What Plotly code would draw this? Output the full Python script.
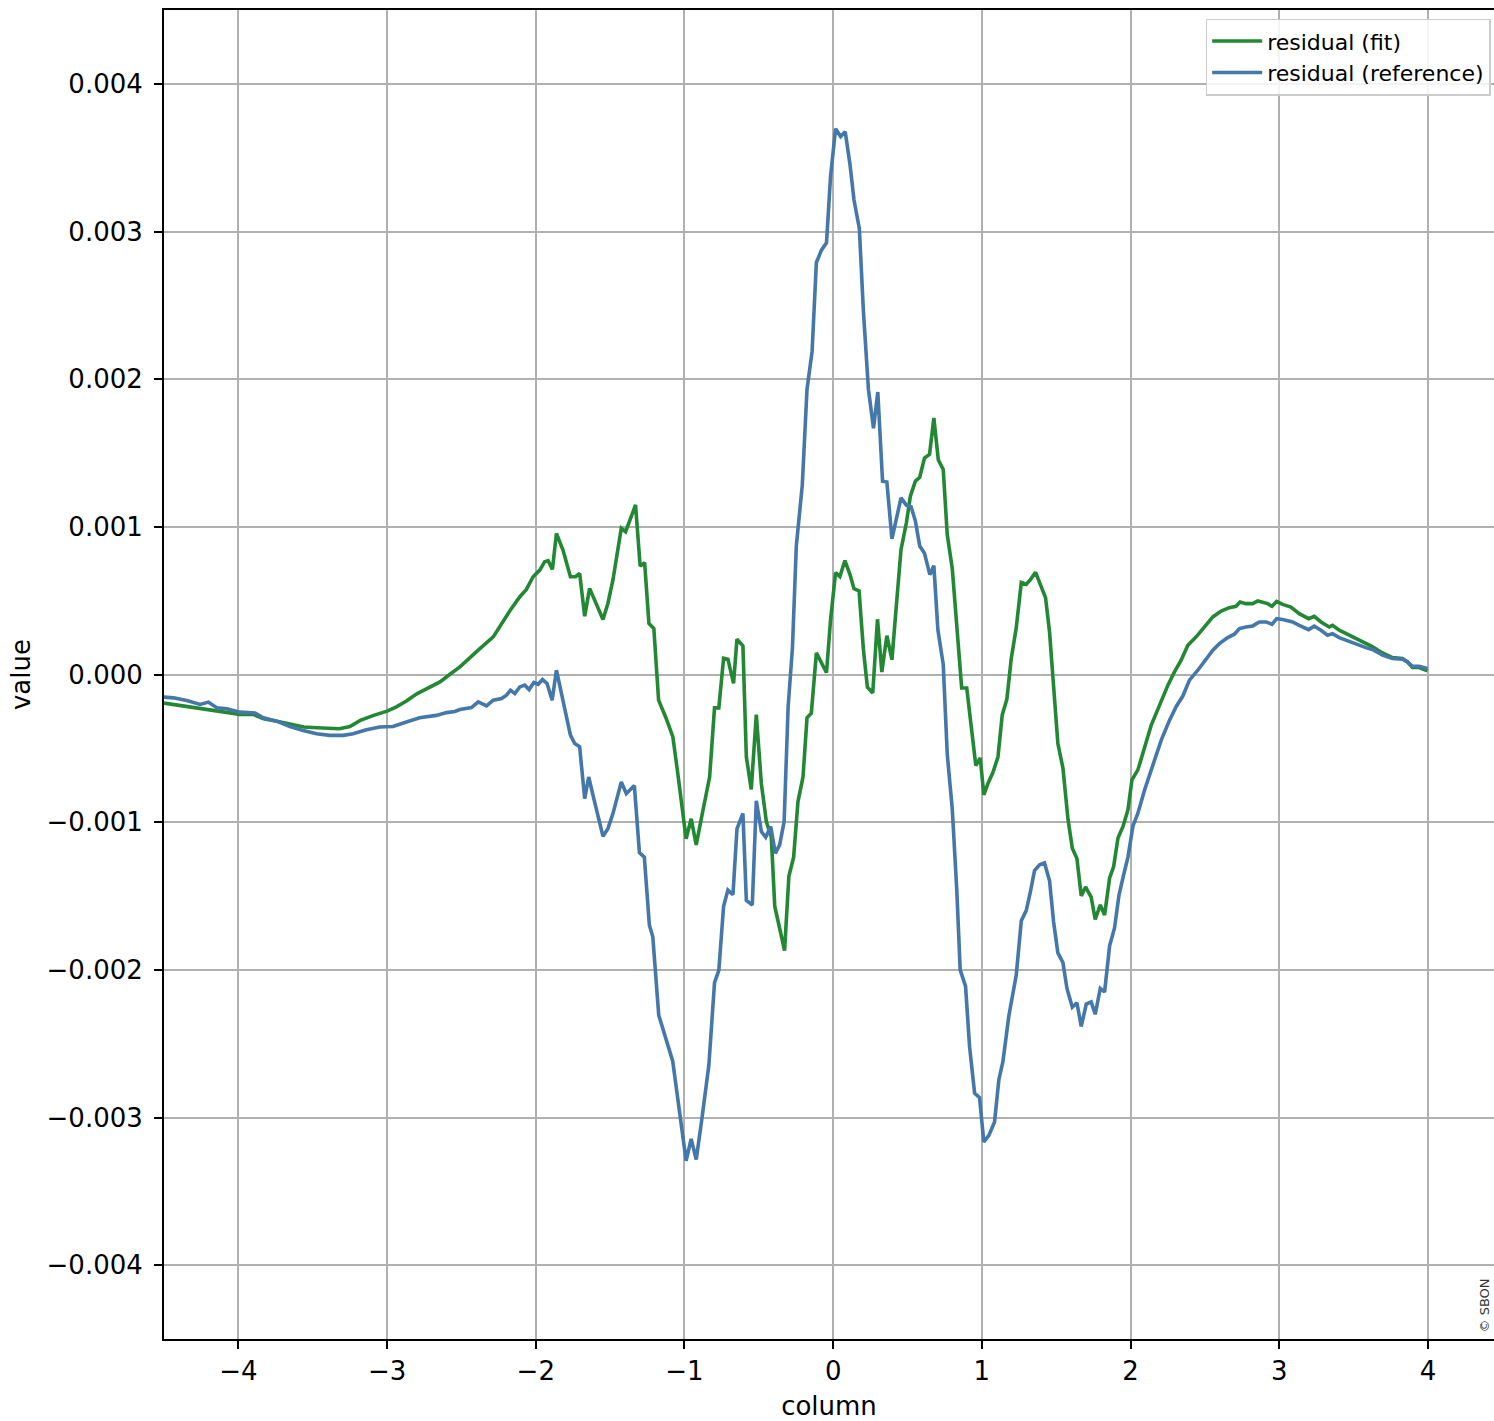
import plotly.graph_objects as go

# ---- data ----
fit_x = [-4.50, -4.44, -4.35, -4.26, -4.17, -4.08, -3.99, -3.90, -3.83, -3.74, -3.65, -3.56, -3.47, -3.39, -3.32,
         -3.25, -3.18, -3.09, -3.00, -2.94, -2.87, -2.80, -2.71, -2.644, -2.579, -2.510, -2.387, -2.286, -2.174,
         -2.107, -2.063, -2.018, -1.973, -1.940, -1.917, -1.888, -1.861, -1.817, -1.767, -1.732, -1.705, -1.671,
         -1.638, -1.604, -1.548, -1.515, -1.481, -1.425, -1.396, -1.329, -1.298, -1.268, -1.239, -1.206, -1.174,
         -1.123, -1.078, -1.045, -0.989, -0.955, -0.921, -0.876, -0.831, -0.798, -0.769, -0.737, -0.708, -0.670,
         -0.647, -0.607, -0.584, -0.551, -0.517, -0.483, -0.449, -0.416, -0.393, -0.362, -0.327, -0.298, -0.266,
         -0.237, -0.203, -0.176, -0.147, -0.113, -0.045, -0.018, 0.016, 0.045, 0.079, 0.113, 0.140, 0.174, 0.203,
         0.230, 0.266, 0.298, 0.327, 0.361, 0.395, 0.424, 0.456, 0.492, 0.519, 0.553, 0.582, 0.614, 0.648, 0.677,
         0.707, 0.740, 0.767, 0.801, 0.835, 0.864, 0.898, 0.930, 0.959, 0.989, 1.013, 1.040, 1.074, 1.108, 1.137,
         1.168, 1.197, 1.231, 1.265, 1.298, 1.325, 1.361, 1.392, 1.428, 1.455, 1.489, 1.511, 1.545, 1.579, 1.608,
         1.639, 1.668, 1.697, 1.735, 1.762, 1.796, 1.825, 1.859, 1.886, 1.915, 1.949, 1.982, 2.009, 2.049, 2.094,
         2.139, 2.195, 2.251, 2.295, 2.340, 2.385, 2.441, 2.497, 2.553, 2.609, 2.664, 2.709, 2.736, 2.776, 2.821,
         2.855, 2.888, 2.922, 2.951, 2.982, 3.022, 3.078, 3.134, 3.197, 3.235, 3.280, 3.336, 3.358, 3.403, 3.492,
         3.582, 3.622, 3.694, 3.761, 3.828, 3.861, 3.895, 3.940, 3.996]
fit_y = [-0.000194, -0.000203, -0.000216, -0.000232, -0.000243, -0.000255, -0.000270, -0.000270, -0.000300,
         -0.000316, -0.000338, -0.000356, -0.000361, -0.000367, -0.000367, -0.000352, -0.000311, -0.000277,
         -0.000248, -0.000221, -0.000180, -0.000131, -0.000086, -0.000050, 0.000000, 0.000052, 0.000165, 0.000255,
         0.000432, 0.000527, 0.000576, 0.000662, 0.000707, 0.000764, 0.000771, 0.000712, 0.000956, 0.000843,
         0.000662, 0.000662, 0.000685, 0.000395, 0.000583, 0.000504, 0.000373, 0.000481, 0.000640, 0.000990,
         0.000967, 0.001148, 0.000734, 0.000757, 0.000346, 0.000312, -0.000174, -0.000298, -0.000423, -0.000671,
         -0.001112, -0.000977, -0.001154, -0.000921, -0.000695, -0.000226, -0.000226, 0.000111, 0.000104,
         -0.000060, 0.000239, 0.000194, -0.000557, -0.000778, -0.000272, -0.000739, -0.000998, -0.001102,
         -0.001569, -0.001710, -0.001870, -0.001366, -0.001237, -0.000862, -0.000694, -0.000293, -0.000262,
         0.000147, 0.000012, 0.000366, 0.000690, 0.000664, 0.000772, 0.000677, 0.000581, 0.000566, 0.000172,
         -0.000086, -0.000125, 0.000374, 0.000017, 0.000263, 0.000100, 0.000457, 0.000845, 0.001026, 0.001207,
         0.001310, 0.001336, 0.001465, 0.001491, 0.001737, 0.001453, 0.001388, 0.000948, 0.000716, 0.000302,
         -0.000091, -0.000091, -0.000345, -0.000616, -0.000565, -0.000815, -0.000740, -0.000664, -0.000559,
         -0.000272, -0.000167, 0.000105, 0.000316, 0.000623, 0.000611, 0.000641, 0.000692, 0.000617, 0.000521,
         0.000286, -0.000167, -0.000468, -0.000634, -0.000981, -0.001177, -0.001246, -0.001499, -0.001439,
         -0.001508, -0.001659, -0.001560, -0.001629, -0.001378, -0.001300, -0.001108, -0.001029, -0.000917,
         -0.000714, -0.000646, -0.000500, -0.000342, -0.000207, -0.000072, 0.000018, 0.000097, 0.000198, 0.000255,
         0.000322, 0.000390, 0.000430, 0.000453, 0.000462, 0.000491, 0.000480, 0.000480, 0.000498, 0.000491,
         0.000480, 0.000462, 0.000495, 0.000475, 0.000457, 0.000412, 0.000378, 0.000394, 0.000356, 0.000322,
         0.000333, 0.000300, 0.000255, 0.000209, 0.000191, 0.000146, 0.000115, 0.000108, 0.000086, 0.000047,
         0.000047, 0.000025]

ref_x = [-4.503, -4.436, -4.347, -4.257, -4.201, -4.145, -4.078, -3.989, -3.888, -3.832, -3.743, -3.653, -3.564,
         -3.474, -3.385, -3.295, -3.228, -3.139, -3.049, -2.960, -2.870, -2.781, -2.669, -2.600, -2.544, -2.510,
         -2.432, -2.387, -2.331, -2.286, -2.230, -2.197, -2.170, -2.141, -2.107, -2.074, -2.045, -2.013, -1.984,
         -1.955, -1.924, -1.890, -1.861, -1.817, -1.767, -1.738, -1.705, -1.671, -1.644, -1.615, -1.548, -1.515,
         -1.481, -1.425, -1.391, -1.337, -1.303, -1.270, -1.236, -1.213, -1.173, -1.079, -1.034, -0.989, -0.955,
         -0.921, -0.881, -0.836, -0.798, -0.769, -0.737, -0.708, -0.674, -0.647, -0.607, -0.584, -0.544, -0.517,
         -0.483, -0.454, -0.420, -0.389, -0.360, -0.330, -0.303, -0.274, -0.248, -0.208, -0.176, -0.142, -0.113,
         -0.079, -0.045, -0.018, 0.016, 0.050, 0.081, 0.113, 0.140, 0.176, 0.203, 0.237, 0.271, 0.300, 0.332,
         0.361, 0.395, 0.424, 0.456, 0.492, 0.524, 0.553, 0.582, 0.614, 0.650, 0.677, 0.704, 0.740, 0.767, 0.801,
         0.831, 0.854, 0.890, 0.917, 0.951, 0.984, 1.013, 1.047, 1.085, 1.114, 1.141, 1.182, 1.231, 1.265, 1.298,
         1.325, 1.354, 1.388, 1.421, 1.455, 1.482, 1.511, 1.545, 1.572, 1.608, 1.639, 1.668, 1.702, 1.735, 1.762,
         1.796, 1.825, 1.859, 1.892, 1.922, 1.953, 1.982, 2.016, 2.049, 2.094, 2.145, 2.206, 2.262, 2.306, 2.351,
         2.396, 2.452, 2.508, 2.553, 2.597, 2.653, 2.698, 2.732, 2.776, 2.821, 2.866, 2.911, 2.951, 2.982, 3.022,
         3.089, 3.134, 3.197, 3.235, 3.280, 3.324, 3.358, 3.403, 3.492, 3.582, 3.626, 3.694, 3.761, 3.828, 3.861,
         3.895, 3.940, 3.996]
ref_y = [-0.000153, -0.000158, -0.000176, -0.000203, -0.000187, -0.000225, -0.000232, -0.000255, -0.000261,
         -0.000293, -0.000316, -0.000352, -0.000379, -0.000401, -0.000412, -0.000412, -0.000401, -0.000374,
         -0.000356, -0.000352, -0.000322, -0.000293, -0.000277, -0.000258, -0.000250, -0.000237, -0.000224,
         -0.000185, -0.000212, -0.000174, -0.000163, -0.000140, -0.000106, -0.000129, -0.000084, -0.000072,
         -0.000102, -0.000054, -0.000066, -0.000034, -0.000061, -0.000174, 0.000029, -0.000174, -0.000411,
         -0.000468, -0.000490, -0.000841, -0.000694, -0.000818, -0.001096, -0.001044, -0.000942, -0.000728,
         -0.000807, -0.000752, -0.001206, -0.001237, -0.001698, -0.001776, -0.002307, -0.002619, -0.002956,
         -0.003293, -0.003145, -0.003285, -0.002995, -0.002645, -0.002087, -0.002004, -0.001569, -0.001460,
         -0.001491, -0.001045, -0.000941, -0.001530, -0.001561, -0.000856, -0.001063, -0.001102, -0.001029,
         -0.001211, -0.001154, -0.000998, -0.000220, 0.000181, 0.000870, 0.001280, 0.001932, 0.002186, 0.002790,
         0.002874, 0.002923, 0.003370, 0.003696, 0.003643, 0.003676, 0.003454, 0.003213, 0.003019, 0.002464,
         0.001932, 0.001667, 0.001913, 0.001309, 0.001304, 0.000918, 0.001039, 0.001196, 0.001147, 0.001135,
         0.001039, 0.000870, 0.000821, 0.000676, 0.000737, 0.000302, 0.000069, -0.000539, -0.000914, -0.001457,
         -0.002000, -0.002111, -0.002518, -0.002835, -0.002865, -0.003166, -0.003121, -0.003030, -0.002744,
         -0.002624, -0.002307, -0.002036, -0.001668, -0.001599, -0.001478, -0.001327, -0.001288, -0.001276,
         -0.001397, -0.001674, -0.001885, -0.001951, -0.002126, -0.002253, -0.002223, -0.002383, -0.002232,
         -0.002217, -0.002301, -0.002126, -0.002150, -0.001837, -0.001716, -0.001493, -0.001358, -0.001237,
         -0.001025, -0.000939, -0.000782, -0.000624, -0.000444, -0.000309, -0.000218, -0.000146, -0.000038,
         0.000029, 0.000108, 0.000164, 0.000209, 0.000250, 0.000273, 0.000311, 0.000322, 0.000329, 0.000356,
         0.000356, 0.000340, 0.000378, 0.000372, 0.000356, 0.000333, 0.000304, 0.000327, 0.000300, 0.000266,
         0.000277, 0.000250, 0.000214, 0.000182, 0.000169, 0.000131, 0.000108, 0.000104, 0.000086, 0.000056,
         0.000056, 0.000041]

x_ticks = [-4, -3, -2, -1, 0, 1, 2, 3, 4]
y_ticks = [-0.004, -0.003, -0.002, -0.001, 0.0, 0.001, 0.002, 0.003, 0.004]

GREEN = "#228833"
BLUE = "#4477AA"
FONT = "DejaVu Sans"

fig = go.Figure()
fig.add_trace(go.Scatter(x=fit_x, y=fit_y, mode="lines", name="residual (fit)",
                         line=dict(color=GREEN, width=3.6)))
fig.add_trace(go.Scatter(x=ref_x, y=ref_y, mode="lines", name="residual (reference)",
                         line=dict(color=BLUE, width=3.6)))

W, H = 1494, 1421
ml, mr, mt, mb = 164, 0, 10, 82
x_left, x_right = -4.5, -4 + (W - 238) / 148.75

fig.update_layout(
    width=W, height=H,
    margin=dict(l=ml, r=mr, t=mt, b=mb),
    paper_bgcolor="white", plot_bgcolor="white",
    font=dict(family=FONT, size=26, color="black"),
    showlegend=True,
    legend=dict(x=0.9975, y=0.9935, xanchor="right", yanchor="top",
                bgcolor="rgba(255,255,255,0.85)", bordercolor="#cccccc", borderwidth=1.5,
                font=dict(family=FONT, size=22, color="black"),
                tracegroupgap=0, itemwidth=50),
    xaxis=dict(range=[x_left, x_right], tickmode="array", tickvals=x_ticks,
               showgrid=True, gridcolor="#b0b0b0", gridwidth=2,
               zeroline=False, showline=True, linecolor="black", linewidth=2, mirror=True,
               ticks="outside", ticklen=8, tickwidth=2, tickcolor="black",
               ticklabelstandoff=0,
               title=dict(text="column", font=dict(family=FONT, size=26), standoff=14)),
    yaxis=dict(range=[-0.0045, 0.0045], tickmode="array", tickvals=y_ticks, tickformat=".3f",
               showgrid=True, gridcolor="#b0b0b0", gridwidth=2,
               zeroline=False, showline=True, linecolor="black", linewidth=2, mirror=False,
               ticks="outside", ticklen=8, tickwidth=2, tickcolor="black",
               ticklabelstandoff=6,
               title=dict(text="value", font=dict(family=FONT, size=26), standoff=8)),
    annotations=[dict(text="© SBON", x=1.0, y=0.0, xref="paper", yref="paper",
                      xanchor="right", yanchor="bottom", xshift=-1, yshift=4,
                      textangle=-90, showarrow=False,
                      font=dict(family=FONT, size=13, color="#333333"))],
)

# remove the page's default body margin so the figure sits at the top-left corner
fig.write_html("out.html", config={"displayModeBar": False},
               post_script="document.body.style.margin='0';document.body.style.overflow='hidden';")
